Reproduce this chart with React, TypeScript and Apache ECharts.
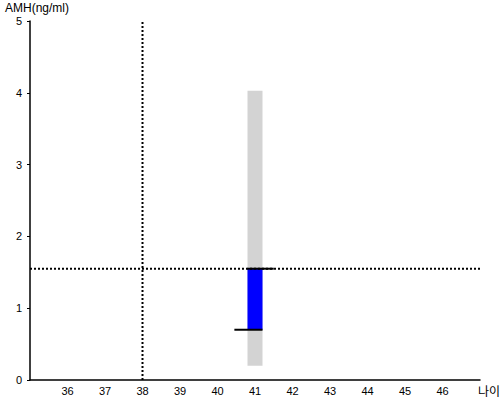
import React, { useEffect, useRef } from "react";
import * as echarts from "echarts";

const xTickLabels = [36, 37, 38, 39, 40, 41, 42, 43, 44, 45, 46];
const yTickLabels = [0, 1, 2, 3, 4, 5];
// [xStart, xEnd, yLow, yHigh]
const rangeBar = [40.8, 41.2, 0.2, 4.03];
const valueBar = [40.8, 41.2, 0.7, 1.55];
const topSegment = [[40.8, 1.55], [41.5, 1.55]];
const bottomSegment = [[40.45, 0.7], [41.2, 0.7]];
const refY = 1.55;
const refX = 38;

export default function App() {
  const ref = useRef<HTMLDivElement>(null);
  useEffect(() => {
    const chart = echarts.init(ref.current!, null, { renderer: "svg" });
    const font = "Liberation Sans, Arial, sans-serif";
    const rectItem = (color: string) => (params: any, api: any) => {
      const p1 = api.coord([api.value(0), api.value(3)]);
      const p2 = api.coord([api.value(1), api.value(2)]);
      return {
        type: "rect",
        shape: { x: p1[0], y: p1[1], width: p2[0] - p1[0], height: p2[1] - p1[1] },
        style: { fill: color },
      };
    };
    chart.setOption({
      animation: false,
      grid: { left: 30, right: 20, top: 21, bottom: 20, containLabel: false, outerBoundsMode: "none" },
      xAxis: {
        type: "value",
        min: 35,
        max: 47,
        interval: 1,
        name: "나이",
        nameLocation: "end",
        nameGap: 0,
        nameTextStyle: {
          fontFamily: "Noto Sans CJK KR",
          fontSize: 12,
          color: "#000",
          verticalAlign: "top",
          align: "left",
          padding: [4, 0, 0, -2],
        },
        axisLine: { lineStyle: { color: "#000", width: 1.5 } },
        axisTick: { show: false },
        splitLine: { show: false },
        axisLabel: {
          color: "#000",
          fontFamily: font,
          fontSize: 11,
          margin: 5,
          formatter: (v: number) => (xTickLabels.includes(v) ? String(v) : ""),
        },
      },
      yAxis: {
        type: "value",
        min: yTickLabels[0],
        max: yTickLabels[yTickLabels.length - 1],
        interval: 1,
        name: "AMH(ng/ml)",
        nameLocation: "end",
        nameGap: 7,
        nameTextStyle: {
          fontFamily: font,
          fontSize: 12,
          color: "#000",
          align: "left",
          padding: [0, 0, 0, -25],
        },
        axisLine: { show: true, lineStyle: { color: "#000", width: 1.5 } },
        axisTick: { show: true, length: 3, lineStyle: { color: "#000" } },
        splitLine: { show: false },
        axisLabel: { color: "#000", fontFamily: font, fontSize: 11, margin: 8 },
      },
      series: [
        {
          type: "custom",
          renderItem: rectItem("#d3d3d3"),
          data: [rangeBar],
          encode: { x: [0, 1], y: [2, 3] },
          z: 1,
        },
        {
          type: "custom",
          renderItem: rectItem("#0000ff"),
          data: [valueBar],
          encode: { x: [0, 1], y: [2, 3] },
          z: 2,
        },
        {
          type: "line",
          data: [[35, refY], [47, refY]],
          symbol: "none",
          lineStyle: { color: "#000", width: 2, type: [2, 2] },
          z: 3,
        },
        {
          type: "line",
          data: [[refX, 0], [refX, 5]],
          symbol: "none",
          lineStyle: { color: "#000", width: 2, type: [2, 2] },
          z: 3,
        },
        {
          type: "line",
          data: topSegment,
          symbol: "none",
          lineStyle: { color: "#000", width: 2 },
          z: 4,
        },
        {
          type: "line",
          data: bottomSegment,
          symbol: "none",
          lineStyle: { color: "#000", width: 2 },
          z: 4,
        },
      ],
    });
    return () => chart.dispose();
  }, []);
  return <div ref={ref} style={{ width: 500, height: 400, position: "absolute", left: 0, top: 0 }} />;
}
